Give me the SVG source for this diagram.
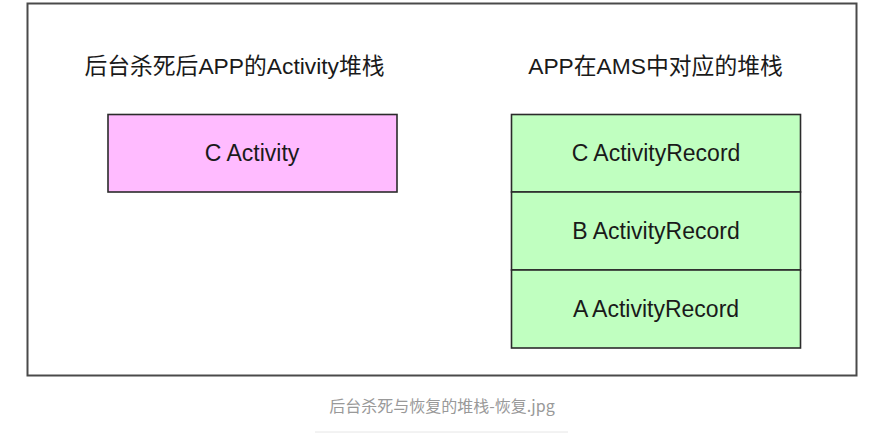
<svg xmlns="http://www.w3.org/2000/svg" width="871" height="435" viewBox="0 0 871 435">
<style>
.t{font-family:"Liberation Sans","Noto Sans CJK SC",sans-serif;fill:#1a1a1a;text-anchor:middle}
.h{font-size:22.8px}
.b{font-size:23px}
.box{stroke:#2b2b2b;stroke-width:1.6}
.pink{fill:#ffbbff}
.green{fill:#c0ffc0}
.cap{font-family:"Noto Sans CJK SC",sans-serif;font-size:16px;fill:#999;text-anchor:middle}
</style>
<rect x="0" y="0" width="871" height="435" fill="#fff"/>
<rect id="frame" x="27.5" y="3.5" width="829" height="372" fill="#fff" stroke="#4a4a4a" stroke-width="2"/>
<g id="title-left"><text class="t h" x="234.5" y="74">后台杀死后APP的Activity堆栈</text></g>
<g id="title-right"><text class="t h" x="655.5" y="74">APP在AMS中对应的堆栈</text></g>
<g id="c-activity"><rect class="box pink" x="108" y="114.5" width="289" height="77.5"/><text class="t b" x="252" y="161">C Activity</text></g>
<g id="c-record"><rect class="box green" x="511.5" y="114.5" width="289" height="77.5"/><text class="t b" x="656" y="161">C ActivityRecord</text></g>
<g id="b-record"><rect class="box green" x="511.5" y="192" width="289" height="78"/><text class="t b" x="656" y="239">B ActivityRecord</text></g>
<g id="a-record"><rect class="box green" x="511.5" y="270" width="289" height="78"/><text class="t b" x="656" y="317">A ActivityRecord</text></g>
<g id="connectors"></g>
<text class="cap" x="442" y="412">后台杀死与恢复的堆栈-恢复.jpg</text>
<line x1="315" y1="432" x2="568" y2="432" stroke="#e6e6e6" stroke-width="1"/>
</svg>
